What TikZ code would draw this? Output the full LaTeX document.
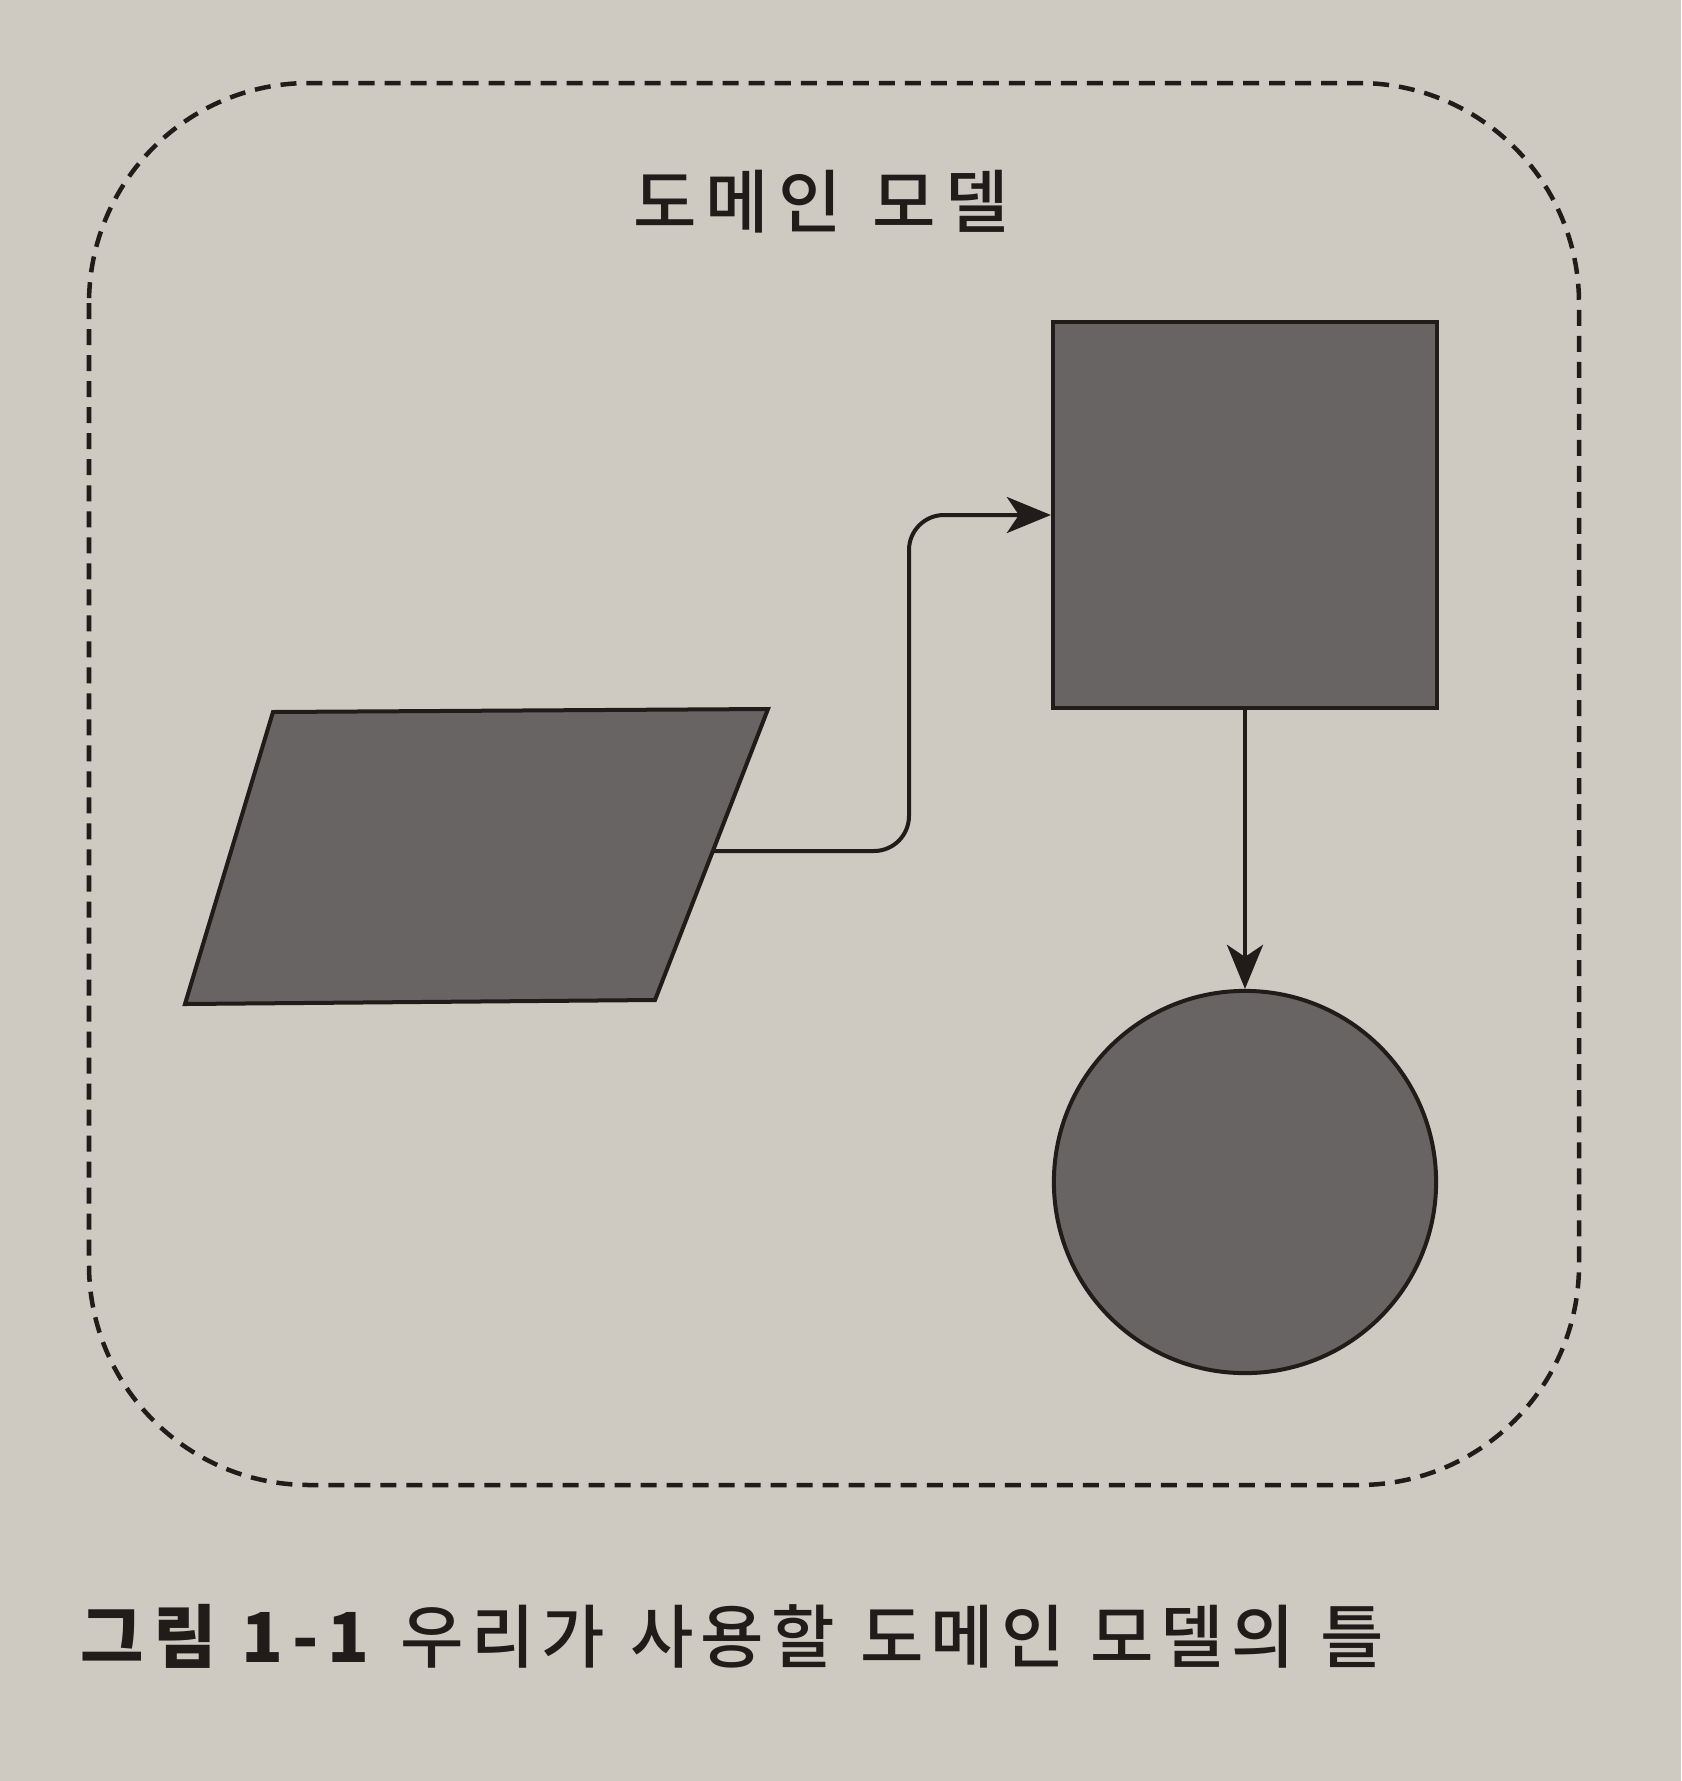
\documentclass[tikz,border=0pt]{standalone}
\usepackage{fontspec}
\setmainfont{Noto Sans CJK KR Medium}[BoldFont={Noto Sans CJK KR Black}]
\usetikzlibrary{arrows.meta}
\definecolor{paper}{RGB}{206,201,193}
\definecolor{ink}{RGB}{33,28,26}
\definecolor{shade}{RGB}{104,100,99}
\tikzset{
  shapebox/.style={draw=ink, line width=0.04cm, fill=shade, inner sep=0pt},
  conn/.style={draw=ink, line width=0.04cm, -{Stealth[length=0.44cm,width=0.36cm,inset=0.12cm]}},
  frame/.style={draw=ink, line width=0.045cm, dash pattern=on 0.16cm off 0.1cm, rounded corners=2.2cm},
  lbl/.style={font=\fontsize{19.6}{24}\selectfont\addfontfeatures{LetterSpace=13}, text=ink},
  caplbl/.style={font=\fontsize{19.6}{24}\selectfont\addfontfeatures{LetterSpace=10}, text=ink},
}
\begin{document}
\begin{tikzpicture}[x=0.01cm,y=-0.01cm]
\useasboundingbox (0,0) rectangle (1681,1781);
\fill[paper] (0,0) rectangle (1681,1781);
% dashed frame
\draw[frame] (89,83) rectangle (1579,1485);
% title
\node[lbl] (title) at (821,202) {도메인\hspace{0.1em} 모델};
% parallelogram
\draw[shapebox] (273,712) -- (768,709) -- (655,1000) -- (185,1004) -- cycle;
\coordinate (pout) at (713,851);
% square
\node[shapebox, minimum width=3.84cm, minimum height=3.85cm] (sq) at (1245,515) {};
% circle
\node[shapebox, circle, minimum size=3.82cm] (circ) at (1245,1182) {};
% connectors
\coordinate (bend) at (909,700);
\draw[conn, rounded corners=0.35cm] (pout) -| (bend) |- (sq.west);
\draw[conn] (sq.south) -- (circ.north);
% caption
\node[caplbl, anchor=west, inner sep=0pt] (cap) at (80,1636) {{\addfontfeatures{LetterSpace=13}\textbf{그림 1-1}} 우리가\hspace{0.05em} 사용할\hspace{0.05em} 도메인\hspace{0.05em} 모델의\hspace{0.05em} 틀};
\end{tikzpicture}
\end{document}
